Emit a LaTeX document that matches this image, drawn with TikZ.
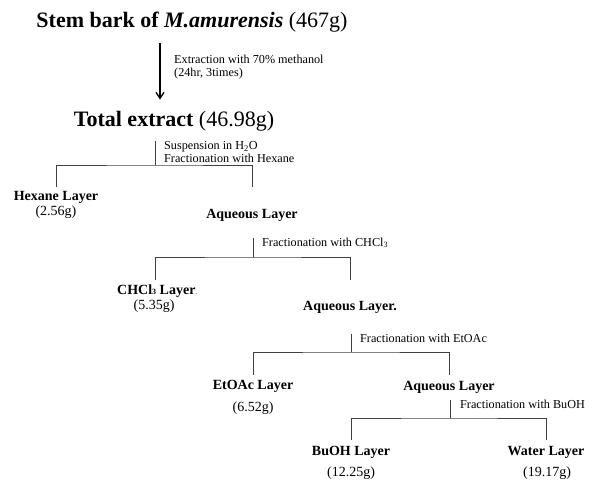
\documentclass[tikz,border=0pt]{standalone}
\usepackage{fontspec}
\setmainfont{Liberation Serif}
\usetikzlibrary{arrows.meta}
\tikzset{
    %Define text styles
    head/.style={
           inner sep=0pt,
           anchor=base,
           font=\fontsize{22}{26}\selectfont},
    layer/.style={
           inner sep=0pt,
           anchor=base,
           font=\fontsize{14}{16}\selectfont\bfseries},
    yield/.style={
           inner sep=0pt,
           anchor=base,
           font=\fontsize{14}{16}\selectfont},
    note/.style={
           inner sep=0pt,
           anchor=west,
           align=left,
           font=\fontsize{12.2}{13}\selectfont},
    % Define line styles
    pil/.style={
           -{Straight Barb[length=6pt,width=8pt]},
           line width=1.3pt},
    tree/.style={
           draw=black!75,
           line width=0.9pt}
}
\newcommand{\subthree}{\raisebox{-0.8pt}{\fontsize{8}{8}\selectfont 3}}
\begin{document}
\begin{tikzpicture}[x=1pt,y=-1pt]
\useasboundingbox (0,0) rectangle (592,480);
\node[head](bark) at (192,27){\textbf{Stem bark of \textit{M.amurensis}} (467g)};
\node[head](total) at (174,126){\textbf{Total extract} (46.98g)};
\coordinate (a) at (160,0);
\draw[pil, shorten <=11pt, shorten >=11pt] (bark.south -| a) -- (total.north -| a);
\node[note](n1) at (174,67.5){Extraction with 70\% methanol\\(24hr, 3times)};
% first split
\coordinate (j1) at (155,165);
\node[note](n2) at (164,152){Suspension in H\textsubscript{2}O\\Fractionation with Hexane};
\node[layer](hex) at (56,200){Hexane Layer};
\node[yield](hexg) at (56,215){(2.56g)};
\node[layer](aq1) at (252,218){Aqueous Layer};
\draw[tree] (j1 |- n2.north) -- (j1);
\draw[tree] ([yshift=4pt]hex.north) |- (j1) -| ([yshift=22pt]aq1.north);
% second split
\coordinate (j2) at (253,257);
\node[note](n3) at (262,243){Fractionation with CHCl\subthree};
\node[layer](chl) at (157,294){CHCl\subthree{} Layer{\tiny.}};
\node[yield](chlg) at (154,309){(5.35g)};
\node[layer](aq2) at (350,310){Aqueous Layer.};
\draw[tree] (j2 |- n3.north) -- (j2);
\draw[tree] ([yshift=4.5pt]chl.north -| j1) |- (j2) -| ([yshift=20.7pt]aq2.north);
% third split
\coordinate (j3) at (351,352);
\node[note](n4) at (360,338){Fractionation with EtOAc};
\node[layer](eto) at (253,389){EtOAc Layer};
\node[yield](etog) at (253,411){(6.52g)};
\node[layer](aq3) at (449,390){Aqueous Layer};
\draw[tree] (j3 |- n4.north) -- (j3);
\draw[tree] ([yshift=4.7pt]eto.north) |- (j3) -| ([yshift=5.7pt]aq3.north);
% fourth split
\coordinate (j4) at (450,418);
\node[note](n5) at (460,404){Fractionation with BuOH};
\node[layer](buo) at (351,455){BuOH Layer};
\node[yield](buog) at (351,476){(12.25g)};
\node[layer](wat) at (546,455){Water Layer};
\node[yield](watg) at (547,476){(19.17g)};
\draw[tree] (j4 |- n5.north) -- (j4);
\draw[tree] ([yshift=5.7pt]buo.north) |- (j4) -| ([yshift=5.7pt]wat.north);
\end{tikzpicture}
\end{document}
